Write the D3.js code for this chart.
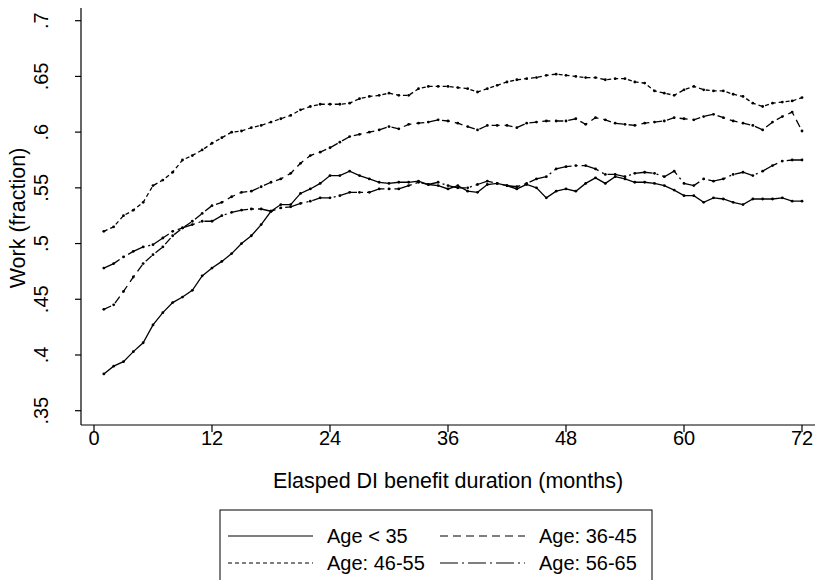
<!DOCTYPE html>
<html>
<head>
<meta charset="utf-8">
<script src="https://cdn.jsdelivr.net/npm/d3@7"></script>
<style>
  body { margin: 0; background: #fff; }
  text { font-family: "Liberation Sans", Arial, sans-serif; fill: #000; }
</style>
</head>
<body>
<div id="chart"></div>
<script>
// months 1..72
var months = d3.range(1, 73);

var ageUnder35 = [
  0.383, 0.390, 0.394, 0.403, 0.411, 0.427, 0.438, 0.447, 0.452, 0.458,
  0.471, 0.478, 0.484, 0.491, 0.500, 0.507, 0.517, 0.529, 0.535, 0.535,
  0.545, 0.549, 0.554, 0.561, 0.561, 0.565, 0.561, 0.558, 0.555, 0.554,
  0.555, 0.555, 0.556, 0.553, 0.552, 0.549, 0.552, 0.547, 0.546, 0.553,
  0.554, 0.552, 0.549, 0.553, 0.550, 0.541, 0.547, 0.549, 0.547, 0.554,
  0.559, 0.554, 0.560, 0.558, 0.555, 0.555, 0.554, 0.552, 0.548, 0.543,
  0.543, 0.537, 0.541, 0.540, 0.537, 0.535, 0.540, 0.540, 0.540, 0.541,
  0.538, 0.538
];
var age36to45 = [
  0.441, 0.445, 0.457, 0.470, 0.482, 0.490, 0.497, 0.507, 0.514, 0.520,
  0.527, 0.534, 0.537, 0.542, 0.546, 0.547, 0.551, 0.555, 0.558, 0.563,
  0.572, 0.579, 0.582, 0.586, 0.591, 0.596, 0.598, 0.600, 0.602, 0.605,
  0.603, 0.607, 0.608, 0.609, 0.611, 0.610, 0.608, 0.605, 0.602, 0.606,
  0.606, 0.606, 0.604, 0.608, 0.609, 0.610, 0.610, 0.610, 0.612, 0.607,
  0.613, 0.611, 0.608, 0.607, 0.606, 0.608, 0.609, 0.610, 0.613, 0.612,
  0.611, 0.614, 0.616, 0.613, 0.610, 0.608, 0.606, 0.602, 0.609, 0.614,
  0.618, 0.601
];
var age46to55 = [
  0.511, 0.515, 0.525, 0.530, 0.537, 0.552, 0.557, 0.564, 0.575, 0.579,
  0.584, 0.590, 0.595, 0.600, 0.601, 0.604, 0.606, 0.609, 0.612, 0.615,
  0.620, 0.623, 0.625, 0.625, 0.625, 0.626, 0.630, 0.632, 0.633, 0.635,
  0.633, 0.633, 0.639, 0.641, 0.641, 0.641, 0.640, 0.639, 0.636, 0.639,
  0.642, 0.645, 0.647, 0.648, 0.649, 0.651, 0.652, 0.651, 0.650, 0.649,
  0.649, 0.647, 0.648, 0.648, 0.645, 0.644, 0.637, 0.635, 0.633, 0.638,
  0.641, 0.638, 0.637, 0.637, 0.634, 0.632, 0.626, 0.623, 0.626, 0.627,
  0.628, 0.631
];
var age56to65 = [
  0.478, 0.482, 0.488, 0.493, 0.497, 0.499, 0.505, 0.511, 0.514, 0.517,
  0.520, 0.520, 0.525, 0.528, 0.530, 0.531, 0.531, 0.529, 0.532, 0.533,
  0.536, 0.538, 0.541, 0.541, 0.543, 0.546, 0.546, 0.546, 0.549, 0.549,
  0.549, 0.552, 0.555, 0.553, 0.555, 0.552, 0.550, 0.550, 0.553, 0.556,
  0.554, 0.552, 0.551, 0.554, 0.558, 0.560, 0.567, 0.569, 0.570, 0.570,
  0.567, 0.562, 0.562, 0.560, 0.563, 0.564, 0.563, 0.560, 0.565, 0.554,
  0.552, 0.558, 0.556, 0.558, 0.562, 0.564, 0.561, 0.565, 0.570, 0.574,
  0.575, 0.575
];

var xTicks = [0, 12, 24, 36, 48, 60, 72];
var yTicks = [0.35, 0.4, 0.45, 0.5, 0.55, 0.6, 0.65, 0.7];
var yTickLabels = [".35", ".4", ".45", ".5", ".55", ".6", ".65", ".7"];

var seriesNames = ["Age < 35", "Age: 36-45", "Age: 46-55", "Age: 56-65"];
var seriesValues = [ageUnder35, age36to45, age46to55, age56to65];
var dashes = [null, "8,5", "4,3", "18,4,2,4"];

var width = 819, height = 580;
var fs = "20px", titleFs = "21.5px";

var svg = d3.select("#chart").append("svg")
    .attr("width", width)
    .attr("height", height);

// scales
var x = d3.scaleLinear().domain([0, 72]).range([94, 802]);
var y = d3.scaleLinear().domain([0.35, 0.7]).range([410.7, 20.7]);

var axisLeftX = 81, axisBottomY = 425;

// y axis
svg.append("line")
    .attr("x1", axisLeftX).attr("x2", axisLeftX)
    .attr("y1", 8).attr("y2", axisBottomY)
    .style("stroke", "#000").style("stroke-width", 1.2);

yTicks.forEach(function(t, i) {
  svg.append("line")
      .attr("x1", axisLeftX - 6).attr("x2", axisLeftX)
      .attr("y1", y(t)).attr("y2", y(t))
      .style("stroke", "#000").style("stroke-width", 1.2);
  svg.append("text")
      .attr("transform", "translate(" + 48 + "," + y(t) + ") rotate(-90)")
      .attr("text-anchor", "middle")
      .style("font-size", fs)
      .text(yTickLabels[i]);
});

svg.append("text")
    .attr("transform", "translate(25,218) rotate(-90)")
    .attr("text-anchor", "middle")
    .style("font-size", titleFs)
    .text("Work (fraction)");

// x axis
svg.append("line")
    .attr("x1", axisLeftX).attr("x2", 815)
    .attr("y1", axisBottomY).attr("y2", axisBottomY)
    .style("stroke", "#000").style("stroke-width", 1.2);

xTicks.forEach(function(t) {
  svg.append("line")
      .attr("x1", x(t)).attr("x2", x(t))
      .attr("y1", axisBottomY).attr("y2", axisBottomY + 7)
      .style("stroke", "#000").style("stroke-width", 1.2);
  svg.append("text")
      .attr("x", x(t)).attr("y", 445)
      .attr("text-anchor", "middle")
      .style("font-size", fs)
      .text(t);
});

svg.append("text")
    .attr("x", 448).attr("y", 488)
    .attr("text-anchor", "middle")
    .style("font-size", titleFs)
    .text("Elasped DI benefit duration (months)");

// lines
var valueline = d3.line()
    .x(function(d, i) { return x(months[i]); })
    .y(function(d) { return y(d); });

seriesValues.forEach(function(vals, k) {
  svg.append("path")
      .datum(vals)
      .attr("d", valueline)
      .style("fill", "none")
      .style("stroke", "#000")
      .style("stroke-width", 1.3)
      .style("stroke-dasharray", dashes[k]);
  svg.append("g").selectAll("circle")
      .data(vals)
      .enter().append("circle")
      .attr("cx", function(d, i) { return x(months[i]); })
      .attr("cy", function(d) { return y(d); })
      .attr("r", 1.4)
      .style("fill", "#000");
});

// legend
svg.append("rect")
    .attr("x", 220).attr("y", 510)
    .attr("width", 432).attr("height", 90)
    .style("fill", "#fff")
    .style("stroke", "#000")
    .style("stroke-width", 1);

var legendPos = [[228, 536], [440, 536], [228, 563], [440, 563]];
seriesNames.forEach(function(name, k) {
  var p = legendPos[k];
  svg.append("line")
      .attr("x1", p[0]).attr("x2", p[0] + 85)
      .attr("y1", p[1]).attr("y2", p[1])
      .style("stroke", "#000").style("stroke-width", 1.2)
      .style("stroke-dasharray", dashes[k]);
  svg.append("text")
      .attr("x", p[0] + 99).attr("y", p[1] + 7)
      .style("font-size", fs)
      .text(name);
});
</script>
</body>
</html>
